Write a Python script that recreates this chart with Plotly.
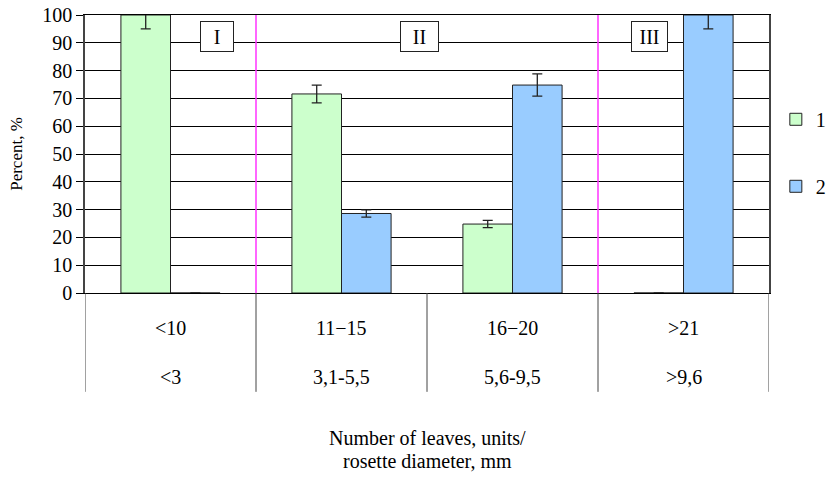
import plotly.graph_objects as go

categories = ["<10", "11\u221215", "16\u221220", ">21"]
diam_labels = ["<3", "3,1-5,5", "5,6-9,5", ">9,6"]
series1 = [100, 71.6, 24.8, 0]
series1_err = [5, 3.2, 1.3, 0]
series2 = [0, 28.6, 74.8, 100]
series2_err = [0, 1.3, 4.0, 5]
zone_labels = ["I", "II", "III"]
zone_x = [0.27, 1.455, 2.80]
zone_w = [30, 35, 33]
yticks = list(range(0, 101, 10))

FONT = "Times New Roman, Liberation Serif, serif"
xs = list(range(len(categories)))

fig = go.Figure()
fig.add_trace(go.Bar(
    x=xs, y=series1, name="1", legendgroup="1",
    marker=dict(color="#CCFFCC", line=dict(color="#222", width=1)),
    error_y=dict(type="data", array=series1_err, visible=True,
                 color="#222", thickness=1.3, width=5),
))
fig.add_trace(go.Bar(
    x=xs, y=series2, name="2", legendgroup="2",
    marker=dict(color="#99CCFF", line=dict(color="#222", width=1)),
    error_y=dict(type="data", array=series2_err, visible=True,
                 color="#222", thickness=1.3, width=5),
))

shapes = []
for xv in [0.5, 2.5]:
    shapes.append(dict(type="line", xref="x", yref="paper", x0=xv, x1=xv, y0=0, y1=1,
                       line=dict(color="#FF33FF", width=1.5), layer="above"))
for xv in [-0.5, 0.5, 1.5, 2.5, 3.5]:
    shapes.append(dict(type="line", xref="x", yref="paper", x0=xv, x1=xv, y0=-0.3555, y1=0,
                       line=dict(color="#444", width=1), layer="above"))

annotations = []
for i, (c, d) in enumerate(zip(categories, diam_labels)):
    annotations.append(dict(x=i, y=-0.1257, xref="x", yref="paper", yanchor="middle",
                            text=c, showarrow=False,
                            font=dict(family=FONT, size=20, color="black")))
    annotations.append(dict(x=i, y=-0.3016, xref="x", yref="paper", yanchor="middle",
                            text=d, showarrow=False,
                            font=dict(family=FONT, size=20, color="black")))
for lab, zx, zw in zip(zone_labels, zone_x, zone_w):
    annotations.append(dict(x=zx, y=92.3, xref="x", yref="y", text=lab, showarrow=False,
                            font=dict(family=FONT, size=20, color="black"),
                            width=zw, height=27, align="center",
                            bgcolor="white", bordercolor="#222", borderwidth=1, borderpad=1))
annotations.append(dict(x=0.5, y=-0.52, xref="paper", yref="paper", yanchor="middle",
                        text="Number of leaves, units/",
                        showarrow=False, font=dict(family=FONT, size=20, color="black")))
annotations.append(dict(x=0.5, y=-0.603, xref="paper", yref="paper", yanchor="middle",
                        text="rosette diameter, mm",
                        showarrow=False, font=dict(family=FONT, size=20, color="black")))

fig.update_layout(
    width=829, height=477,
    margin=dict(l=85, r=60, t=14.5, b=184, autoexpand=False),
    paper_bgcolor="white", plot_bgcolor="white",
    font=dict(family=FONT, size=19, color="black"),
    barmode="group", bargap=0.42, bargroupgap=0,
    shapes=shapes, annotations=annotations,
    legend=dict(x=1.01, y=0.695, xanchor="left", yanchor="top",
                traceorder="grouped", tracegroupgap=38,
                font=dict(family=FONT, size=20, color="black"),
                bgcolor="rgba(0,0,0,0)"),
    xaxis=dict(range=[-0.5, 3.5], tickvals=xs, showticklabels=False, ticks="",
               showgrid=False, showline=True, linecolor="black", linewidth=1, mirror=True,
               zeroline=False, fixedrange=True),
    yaxis=dict(range=[0, 100], tickvals=yticks, ticks="outside", ticklen=7,
               tickcolor="black", showgrid=True, gridcolor="black", gridwidth=1,
               showline=True, linecolor="#444", linewidth=1.5, mirror=True,
               zeroline=False,
               title=dict(text="Percent, %", standoff=15,
                          font=dict(family=FONT, size=17, color="black")),
               tickfont=dict(family=FONT, size=20, color="black")),
)

fig.write_html("out.html", config={"displayModeBar": False},
               post_script="document.body.style.margin='0';")
